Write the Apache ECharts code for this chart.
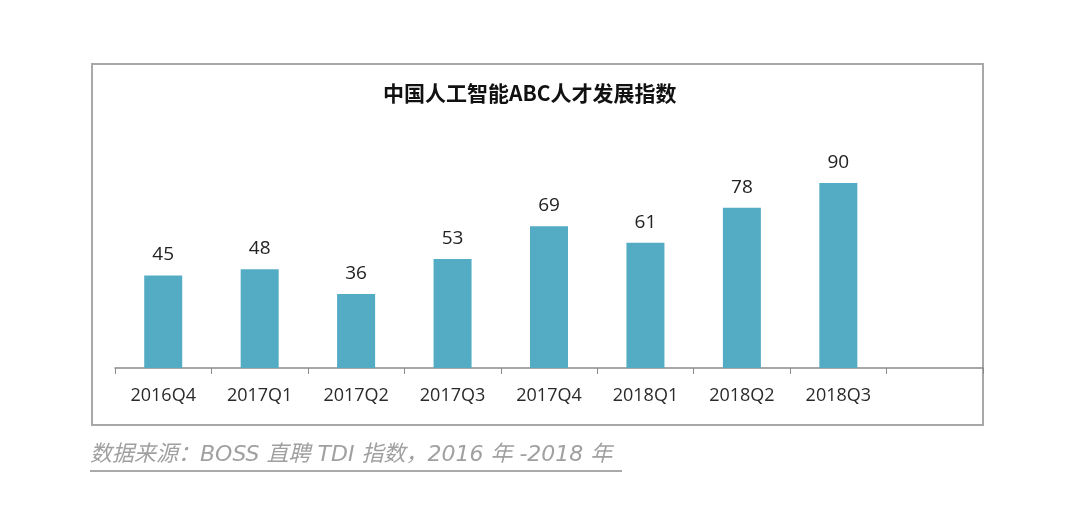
<!DOCTYPE html>
<html>
<head>
<meta charset="utf-8">
<script src="https://cdn.jsdelivr.net/npm/echarts@6/dist/echarts.min.js"></script>
<style>
html,body{margin:0;padding:0;background:#fff;}
#chart{width:1080px;height:513px;}
</style>
</head>
<body>
<div id="chart"></div>
<script>
const categories = ['2016Q4','2017Q1','2017Q2','2017Q3','2017Q4','2018Q1','2018Q2','2018Q3',''];
const values = [45,48,36,53,69,61,78,90,null];
const titleText = '中国人工智能ABC人才发展指数';
const sourceText = '数据来源：BOSS 直聘 TDI 指数，2016 年 -2018 年';

const chart = echarts.init(document.getElementById('chart'));
chart.setOption({
  backgroundColor: '#fff',
  animation: false,
  title: {
    text: titleText,
    left: 378,
    top: 78,
    textStyle: {fontFamily: 'Noto Sans CJK SC', fontWeight: 'bold', fontSize: 21, color: '#111'}
  },
  grid: {left: 115, right: 1080 - 983, top: 162.5, bottom: 513 - 368},
  xAxis: {
    type: 'category',
    data: categories,
    axisLine: {lineStyle: {color: '#8a8a8a', width: 1.5}},
    axisTick: {show: true, length: 6, lineStyle: {color: '#8a8a8a'}},
    axisLabel: {margin: 19, fontSize: 18, color: '#2a2a2a', fontFamily: 'Open Sans'}
  },
  yAxis: {
    type: 'value', min: 0, max: 100, show: false, splitLine: {show: false}
  },
  series: [{
    type: 'bar',
    data: values,
    barWidth: 38,
    itemStyle: {color: '#53acc4'},
    label: {show: true, position: 'top', distance: 11, fontSize: 19, color: '#222', fontFamily: 'Open Sans'}
  }],
  graphic: [
    {type: 'rect', shape: {x: 92, y: 64, width: 891, height: 361},
     style: {fill: null, stroke: '#a8a8a8', lineWidth: 2}, silent: true, z: -1},
    {type: 'text', x: 90, y: 444,
     style: {text: sourceText, fontSize: 22, fontStyle: 'italic', fill: '#a0a0a0',
             fontFamily: 'DejaVu Sans, Noto Sans CJK SC'}},
    {type: 'line', shape: {x1: 90, y1: 471, x2: 622, y2: 471},
     style: {stroke: '#aaa', lineWidth: 2}}
  ]
});
</script>
</body>
</html>
